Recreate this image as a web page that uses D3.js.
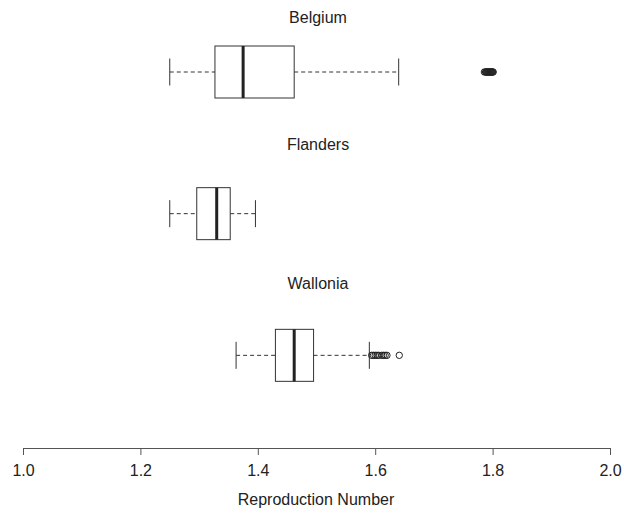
<!DOCTYPE html>
<html>
<head>
<meta charset="utf-8">
<script src="https://cdn.jsdelivr.net/npm/d3@7"></script>
<style>
  body { margin: 0; background: #fff; }
  svg { display: block; font-family: "Liberation Sans", Arial, sans-serif; }
</style>
</head>
<body>
<svg id="chart" width="624" height="514"></svg>
<script>
// regions and their box stats: lower whisker, Q1, median, Q3, upper whisker
const regions = ['Belgium', 'Flanders', 'Wallonia'];
const whiskerLo = [1.25, 1.25, 1.363];
const q1 = [1.327, 1.296, 1.430];
const median = [1.375, 1.330, 1.462];
const q3 = [1.462, 1.353, 1.495];
const whiskerHi = [1.640, 1.396, 1.590];
const outliers = [
  [1.786, 1.788, 1.789, 1.790, 1.791, 1.792, 1.793, 1.794, 1.795, 1.796, 1.797, 1.798, 1.799, 1.800, 1.801],
  [],
  [1.594, 1.597, 1.600, 1.603, 1.606, 1.611, 1.614, 1.617, 1.620, 1.641]
];
const xTicks = [1.0, 1.2, 1.4, 1.6, 1.8, 2.0];
const xLabel = 'Reproduction Number';

const width = 624, height = 514;
const x = d3.scaleLinear().domain([1.0, 2.0]).range([23, 610]);
const y = d3.scaleBand().domain(regions).range([0, 425]);

const svg = d3.select('#chart');

const boxH = 26, capH = 13.5;
// titles sit a bit higher over the lower panels
const titleShift = [-49, -64, -66];

const g = svg.append('g')
  .selectAll('g')
  .data(regions)
  .join('g')
  .attr('transform', d => `translate(0,${y(d) + 72})`);

// panel titles
g.append('text')
  .attr('x', 318)
  .attr('y', (d, i) => titleShift[i])
  .attr('text-anchor', 'middle')
  .attr('font-size', 16)
  .attr('fill', '#222')
  .text(d => d);

// dashed whiskers
g.append('line')
  .attr('x1', (d, i) => x(whiskerLo[i]))
  .attr('x2', (d, i) => x(q1[i]))
  .attr('stroke', '#333').attr('stroke-dasharray', '4,3');
g.append('line')
  .attr('x1', (d, i) => x(q3[i]))
  .attr('x2', (d, i) => x(whiskerHi[i]))
  .attr('stroke', '#333').attr('stroke-dasharray', '4,3');

// whisker caps
g.append('line')
  .attr('x1', (d, i) => x(whiskerLo[i])).attr('x2', (d, i) => x(whiskerLo[i]))
  .attr('y1', -capH).attr('y2', capH)
  .attr('stroke', '#333');
g.append('line')
  .attr('x1', (d, i) => x(whiskerHi[i])).attr('x2', (d, i) => x(whiskerHi[i]))
  .attr('y1', -capH).attr('y2', capH)
  .attr('stroke', '#333');

// box
g.append('rect')
  .attr('x', (d, i) => x(q1[i]))
  .attr('width', (d, i) => x(q3[i]) - x(q1[i]))
  .attr('y', -boxH).attr('height', boxH * 2)
  .attr('fill', 'none').attr('stroke', '#333');

// median
g.append('line')
  .attr('x1', (d, i) => x(median[i])).attr('x2', (d, i) => x(median[i]))
  .attr('y1', -boxH).attr('y2', boxH)
  .attr('stroke', '#222').attr('stroke-width', 3);

// outliers
g.selectAll('circle')
  .data((d, i) => outliers[i])
  .join('circle')
  .attr('cx', v => x(v))
  .attr('r', 3.2)
  .attr('fill', 'none').attr('stroke', '#222');

// x axis
const axis = svg.append('g')
  .attr('transform', 'translate(0,448)')
  .call(d3.axisBottom(x).tickValues(xTicks).tickFormat(d3.format('.1f')).tickSize(7).tickSizeOuter(0));
axis.select('.domain').attr('stroke', '#555');
axis.selectAll('.tick line').attr('stroke', '#555');
axis.selectAll('.tick text')
  .attr('font-size', 16)
  .attr('font-family', '"Liberation Sans", Arial, sans-serif')
  .attr('fill', '#222')
  .attr('dy', '1.15em');

svg.append('text')
  .attr('x', 316)
  .attr('y', 505)
  .attr('text-anchor', 'middle')
  .attr('font-size', 16)
  .attr('fill', '#222')
  .text(xLabel);
</script>
</body>
</html>
